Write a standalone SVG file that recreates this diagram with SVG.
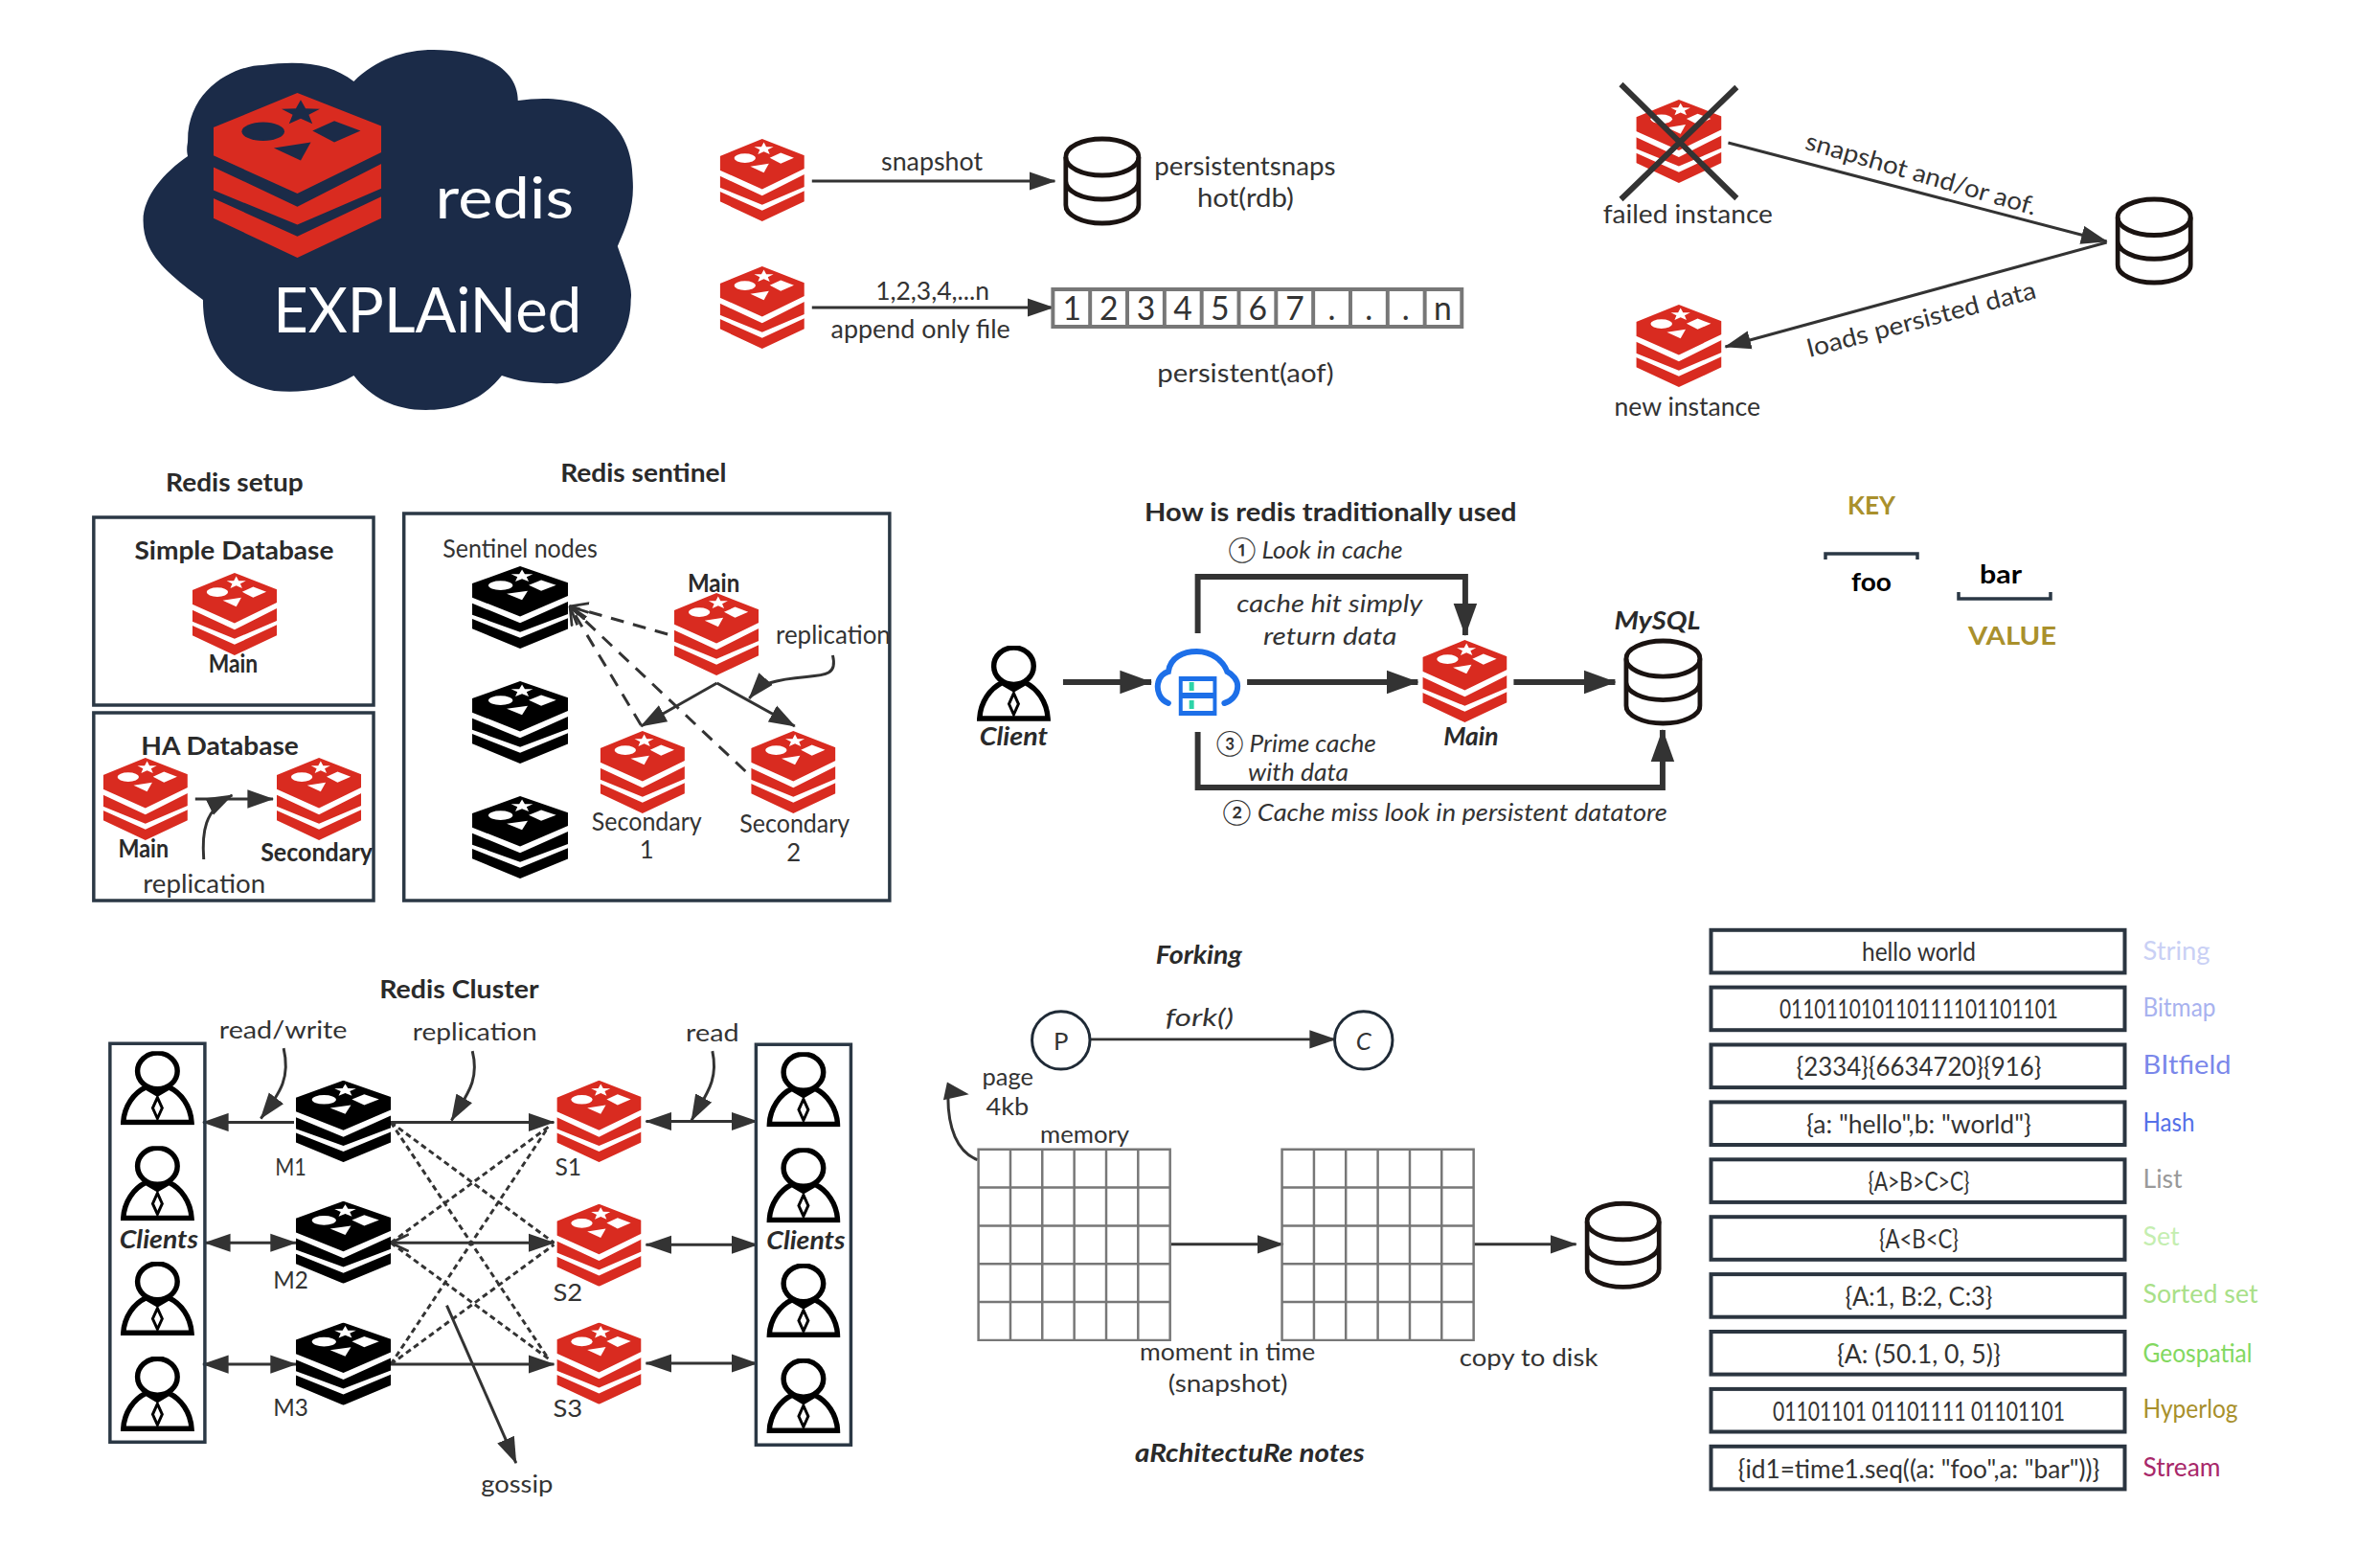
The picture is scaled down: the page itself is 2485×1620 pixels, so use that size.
<svg xmlns="http://www.w3.org/2000/svg" width="2485" height="1620" viewBox="0 0 2485 1620">
<style>
text{font-family:"Lato","Noto Sans","DejaVu Sans",sans-serif;font-size:26px;fill:#333}
.b{font-weight:700;fill:#2a2a2a}
.i{font-style:italic}
.bi{font-style:italic;font-weight:700;fill:#2a2a2a}
.ln{fill:none;stroke:#333;stroke-width:3}
.th{fill:none;stroke:#333;stroke-width:6}
.da{fill:none;stroke:#333;stroke-width:3;stroke-dasharray:14 10}
.dd{fill:none;stroke:#333;stroke-width:3;stroke-dasharray:6 4}
.box{fill:none;stroke:#2b3845;stroke-width:3.5}
.row{fill:#fff;stroke:#2b3540;stroke-width:4}
.grid{fill:none;stroke:#777;stroke-width:2.5}
.red{fill:#d92b20}
.blk{fill:#000}
.m{text-anchor:middle}
</style>
<defs>
<symbol id="redis" viewBox="0 0 100 100" preserveAspectRatio="none">
<path d="M50 0 L100 20 V36 L50 61 L0 38 V21Z M100 43 V58 L50 80 L0 59 V45 L50 69Z M100 63 V76 L50 100 L0 76 V64 L50 87Z"/>
<g style="fill:var(--hole,#fff)">
<ellipse cx="29.6" cy="23.4" rx="12.7" ry="5.6"/>
<polygon points="52,4.2 54.9,9.5 63.4,9.7 56.8,13.2 59,18.7 52,15.5 45,18.7 47.2,13.2 40.6,9.7 49.1,9.5"/>
<polygon points="59,23 72,17 87.6,23 72,30"/>
<polygon points="36,33.5 58,30 52,41"/>
</g>
</symbol>
<symbol id="db" viewBox="0 0 82 94" preserveAspectRatio="none">
<g fill="none" stroke="#1a1311" stroke-width="5">
<ellipse cx="41" cy="22" rx="38.5" ry="19"/>
<path d="M2.5 22 V72 A38.5 19 0 0 0 79.5 72 V22 M2.5 47 A38.5 19 0 0 0 79.5 47"/>
</g>
</symbol>
<symbol id="person" viewBox="0 0 78 78" preserveAspectRatio="none">
<g fill="none" stroke="#000" stroke-width="5.5">
<ellipse cx="39" cy="21" rx="21" ry="19"/>
<path d="M3 75 C4 58 14 44 27 38 L39 45 L51 38 C64 44 74 58 75 75Z"/>
<path stroke-width="3" d="M39 49 L44 60 L39 71 L34 60Z"/>
</g>
</symbol>
<marker id="a26" markerUnits="userSpaceOnUse" markerWidth="28" markerHeight="20" viewBox="0 0 26 18" refX="25" refY="9" orient="auto-start-reverse"><path d="M0 0 L26 9 L0 18Z" fill="#333"/></marker>
<marker id="a33" markerUnits="userSpaceOnUse" markerWidth="34" markerHeight="26" viewBox="0 0 33 24" refX="32" refY="12" orient="auto-start-reverse"><path d="M0 0 L33 12 L0 24Z" fill="#333"/></marker>
<marker id="o14" markerUnits="userSpaceOnUse" markerWidth="20" markerHeight="20" viewBox="0 0 18 18" refX="17" refY="9" orient="auto-start-reverse"><path d="M0 1 L17 9 L0 17" fill="none" stroke="#333" stroke-width="2.5"/></marker>
</defs>

<g id="logo" transform="matrix(0.9905 0 0 1 0.95 0)">
<path d="M372 85 C395 62 425 52 456 52 C505 52 545 70 545 105 C610 95 666 120 666 187 C668 215 660 235 650 257 C660 285 666 300 664 313 C664 370 610 405 580 400 C560 400 545 398 528 392 C505 420 478 428 448 428 C415 428 390 415 372 392 C345 408 315 410 288 408 C240 400 213 365 213 313 C175 285 150 265 150 230 C150 205 172 180 197 163 C195 155 197 150 197 147 C197 90 250 68 276 68 C320 62 350 68 372 85Z" fill="#1b2b48"/>
<use href="#redis" x="224" y="97" width="177" height="172" class="red" style="--hole:#1b2b48"/>
<text x="458" y="228" style="font-size:60px;fill:#fff" textLength="146" lengthAdjust="spacingAndGlyphs">redis</text>
<text x="287" y="347" style="font-size:66px;fill:#fff" textLength="325" lengthAdjust="spacingAndGlyphs">EXPLAiNed</text>
</g>

<g id="connectors">
<g id="conn-persistence" transform="matrix(0.9905 0 0 1 6.84 0)">
<path class="ln" marker-end="url(#a26)" d="M849 189 H1105"/>
<path class="ln" marker-end="url(#a26)" d="M849 321 H1103"/>
</g>
<g id="conn-failover" transform="matrix(0.9905 0 0 1 15.58 0)">
<path class="ln" marker-end="url(#a26)" d="M1806 149 L2205 252"/>
<path class="ln" marker-end="url(#a26)" d="M2205 253 L1803 362"/>
</g>
<g id="conn-setup" transform="matrix(0.9905 0 0 1 0.76 0)">
<path class="ln" marker-end="url(#a26)" d="M205 834 H287"/>
<path class="ln" marker-end="url(#a26)" d="M214 897 C212 870 214 845 244 830"/>
<path class="ln" marker-end="url(#a26)" d="M877 684 C885 715 850 700 810 713 C800 716 795 722 789 729"/>
<path class="ln" marker-end="url(#a26)" d="M755 713 L675 758"/>
<path class="ln" marker-end="url(#a26)" d="M755 713 L837 758"/>
<path class="da" marker-end="url(#o14)" d="M703 662 L600 633"/>
<path class="da" marker-end="url(#o14)" d="M675 757 L600 633"/>
<path class="da" marker-end="url(#o14)" d="M785 805 L600 633"/>
</g>
<g id="conn-traditional" transform="matrix(0.9905 0 0 1 9.5 0)">
<path class="th" marker-end="url(#a33)" d="M1111 712 H1204"/>
<path class="th" marker-end="url(#a33)" d="M1305 712 H1485"/>
<path class="th" marker-end="url(#a33)" d="M1586 712 H1693"/>
<path class="th" marker-end="url(#a33)" d="M1253 661 V602 H1535 V663"/>
<path class="th" marker-end="url(#a33)" d="M1253 764 V822 H1743 V762"/>
</g>
<g id="conn-cluster" transform="matrix(0.9905 0 0 0.9905 0.95 9.6)">
<path class="ln" marker-end="url(#a26)" d="M309 1173 H213"/>
<path class="ln" marker-end="url(#a26)" d="M411 1173 H583"/>
<path class="ln" marker-start="url(#a26)" marker-end="url(#a26)" d="M680 1172 H797"/>
<path class="ln" marker-start="url(#a26)" marker-end="url(#a26)" d="M215 1300 H311"/>
<path class="ln" marker-start="url(#o14)" marker-end="url(#a26)" d="M411 1300 H583"/>
<path class="ln" marker-start="url(#a26)" marker-end="url(#a26)" d="M680 1302 H797"/>
<path class="ln" marker-start="url(#a26)" marker-end="url(#a26)" d="M213 1428 H311"/>
<path class="ln" marker-end="url(#a26)" d="M411 1428 H583"/>
<path class="ln" marker-start="url(#a26)" marker-end="url(#a26)" d="M680 1427 H797"/>
<path class="ln" marker-end="url(#a26)" d="M298 1095 C305 1125 296 1140 274 1169"/>
<path class="ln" marker-end="url(#a26)" d="M497 1098 C505 1130 490 1145 475 1171"/>
<path class="ln" marker-end="url(#a26)" d="M750 1098 C757 1130 742 1145 728 1171"/>
<path class="ln" marker-end="url(#a26)" d="M470 1366 L543 1532"/>
<path class="dd" d="M411 1173 L583 1300"/>
<path class="dd" d="M411 1173 L577 1422"/>
<path class="dd" d="M411 1300 L577 1178"/>
<path class="dd" d="M411 1300 L577 1422"/>
<path class="dd" d="M411 1428 L577 1178"/>
<path class="dd" d="M411 1428 L583 1302"/>
</g>
<g id="conn-forking" transform="matrix(0.9905 0 0 0.9905 9.31 9.2)">
<path class="ln" marker-end="url(#a26)" d="M1140 1086 H1398"/>
<path class="ln" d="M1021 1213 C1000 1205 989 1180 990 1142"/>
<polygon points="989,1131 1012,1144 985,1150" fill="#333"/>
<path class="ln" marker-end="url(#a26)" d="M1225 1302 H1343"/>
<path class="ln" marker-end="url(#a26)" d="M1544 1302 H1652"/>
</g>
</g>

<g id="rdb" transform="matrix(0.9905 0 0 1 6.84 0)">
<use id="rdb-redis" href="#redis" x="752" y="145" width="89" height="86" class="red"/>
<use id="rdb-db" href="#db" x="1114" y="142" width="82" height="94"/>
<text x="922" y="178" textLength="107" lengthAdjust="spacingAndGlyphs">snapshot</text>
<text x="1210" y="183" textLength="191" lengthAdjust="spacingAndGlyphs">persistentsnaps</text>
<text x="1255" y="216" textLength="102" lengthAdjust="spacingAndGlyphs">hot(rdb)</text>
</g>

<g id="aof" transform="matrix(0.9905 0 0 1 6.84 0)">
<use href="#redis" x="752" y="278" width="89" height="86" class="red"/>
<text x="916" y="313" textLength="120" lengthAdjust="spacingAndGlyphs">1,2,3,4,...n</text>
<text x="869" y="353" textLength="189" lengthAdjust="spacingAndGlyphs">append only file</text>
<rect x="1103" y="302" width="431" height="39" fill="none" stroke="#777" stroke-width="4"/>
<path fill="none" stroke="#777" stroke-width="4" d="M1142.2 302 V341 M1181.4 302 V341 M1220.6 302 V341 M1259.8 302 V341 M1299 302 V341 M1338.2 302 V341 M1377.4 302 V341 M1416.6 302 V341 M1455.8 302 V341 M1495 302 V341"/>
<text class="m" x="1123" y="334" style="font-size:34px">1</text>
<text class="m" x="1162" y="334" style="font-size:34px">2</text>
<text class="m" x="1201" y="334" style="font-size:34px">3</text>
<text class="m" x="1240" y="334" style="font-size:34px">4</text>
<text class="m" x="1279" y="334" style="font-size:34px">5</text>
<text class="m" x="1319" y="334" style="font-size:34px">6</text>
<text class="m" x="1358" y="334" style="font-size:34px">7</text>
<text class="m" x="1397" y="334" style="font-size:34px">.</text>
<text class="m" x="1436" y="334" style="font-size:34px">.</text>
<text class="m" x="1475" y="334" style="font-size:34px">.</text>
<text class="m" x="1514" y="334" style="font-size:34px">n</text>
<text x="1213" y="399" textLength="186" lengthAdjust="spacingAndGlyphs">persistent(aof)</text>
</g>

<g id="failover" transform="matrix(0.9905 0 0 1 15.58 0)">
<use href="#redis" x="1709" y="104" width="90" height="87" class="red"/>
<path fill="none" stroke="#333" stroke-width="6" d="M1693 88 L1815 207 M1815 91 L1693 208"/>
<text x="1674" y="233" textLength="179" lengthAdjust="spacingAndGlyphs">failed instance</text>
<use href="#db" x="2214" y="205" width="82" height="93"/>
<text transform="translate(2007 190) rotate(16)" class="m" textLength="252" lengthAdjust="spacingAndGlyphs" x="0" y="0">snapshot and/or aof.</text>
<text transform="translate(2012 342) rotate(-14.5)" class="m" textLength="248" lengthAdjust="spacingAndGlyphs" x="0" y="0">loads persisted data</text>
<use href="#redis" x="1709" y="318" width="90" height="86" class="red"/>
<text x="1686" y="434" textLength="154" lengthAdjust="spacingAndGlyphs">new instance</text>
</g>

<g id="redis-setup" transform="matrix(0.9905 0 0 1 0.76 0)">
<text class="b" x="174" y="513" textLength="145" lengthAdjust="spacingAndGlyphs">Redis setup</text>
<rect class="box" x="98" y="540" width="295" height="196"/>
<text class="b" x="141" y="584" textLength="210" lengthAdjust="spacingAndGlyphs">Simple Database</text>
<use href="#redis" x="202" y="598" width="89" height="86" class="red"/>
<text class="b" x="219" y="702" textLength="52" lengthAdjust="spacingAndGlyphs">Main</text>
<rect class="box" x="98" y="744" width="295" height="196"/>
<text class="b" x="148" y="788" textLength="166" lengthAdjust="spacingAndGlyphs">HA Database</text>
<use href="#redis" x="108" y="791" width="89" height="86" class="red"/>
<use href="#redis" x="291" y="791" width="89" height="86" class="red"/>
<text class="b" x="124" y="895" textLength="53" lengthAdjust="spacingAndGlyphs">Main</text>
<text class="b" x="274" y="899" textLength="118" lengthAdjust="spacingAndGlyphs">Secondary</text>
<text x="150" y="932" textLength="129" lengthAdjust="spacingAndGlyphs">replication</text>
</g>

<g id="redis-sentinel" transform="matrix(0.9905 0 0 1 0.76 0)">
<text class="b" x="590" y="503" textLength="175" lengthAdjust="spacingAndGlyphs">Redis sentinel</text>
<rect class="box" x="425" y="536" width="512" height="404"/>
<text x="466" y="582" textLength="163" lengthAdjust="spacingAndGlyphs">Sentinel nodes</text>
<use href="#redis" x="497" y="591" width="101" height="86" class="blk"/>
<use href="#redis" x="497" y="711" width="101" height="86" class="blk"/>
<use href="#redis" x="497" y="831" width="101" height="86" class="blk"/>
<text class="b" x="724" y="618" textLength="55" lengthAdjust="spacingAndGlyphs">Main</text>
<use href="#redis" x="710" y="619" width="89" height="86" class="red"/>
<text x="817" y="672" textLength="121" lengthAdjust="spacingAndGlyphs">replication</text>
<use href="#redis" x="632" y="763" width="89" height="86" class="red"/>
<use href="#redis" x="791" y="763" width="89" height="86" class="red"/>
<text x="623" y="867" textLength="116" lengthAdjust="spacingAndGlyphs">Secondary</text>
<text class="m" x="681" y="896">1</text>
<text x="779" y="869" textLength="116" lengthAdjust="spacingAndGlyphs">Secondary</text>
<text class="m" x="836" y="899">2</text>
</g>

<g id="traditional-use" transform="matrix(0.9905 0 0 1 9.5 0)">
<text class="b" x="1197" y="544" textLength="392" lengthAdjust="spacingAndGlyphs">How is redis traditionally used</text>
<text class="i" x="1285" y="583" textLength="184" lengthAdjust="spacingAndGlyphs">① Look in cache</text>
<use href="#person" x="1020" y="674" width="78" height="79"/>
<text class="bi" x="1023" y="778" textLength="72" lengthAdjust="spacingAndGlyphs">Client</text>
<g id="gateway" transform="translate(1208 678)">
<path fill="none" stroke="#1d6fe8" stroke-width="6" stroke-linecap="round" d="M14 56 C4 52 2 42 3 36 C4 28 10 24 14 23 C16 8 30 2 44 2 C60 2 72 12 76 23 C82 26 87 32 87 38 C87 48 80 54 73 56"/>
<rect x="25" y="28" width="40" height="41" fill="#1d6fe8"/>
<rect x="29" y="33" width="32" height="12" fill="#fff"/>
<rect x="29" y="51" width="32" height="13" fill="#fff"/>
<rect x="36" y="34" width="5" height="9" fill="#2dd4a8"/>
<rect x="36" y="53" width="5" height="9" fill="#2dd4a8"/>
</g>
<text class="i" x="1294" y="639" textLength="196" lengthAdjust="spacingAndGlyphs">cache hit simply</text>
<text class="i" x="1322" y="673" textLength="141" lengthAdjust="spacingAndGlyphs">return data</text>
<use href="#redis" x="1490" y="668" width="89" height="86" class="red"/>
<text class="bi" x="1512" y="778" textLength="58" lengthAdjust="spacingAndGlyphs">Main</text>
<text class="bi" x="1692" y="657" textLength="91" lengthAdjust="spacingAndGlyphs">MySQL</text>
<use href="#db" x="1702" y="666" width="83" height="92"/>
<text class="i" x="1272" y="785" textLength="169" lengthAdjust="spacingAndGlyphs">③ Prime cache</text>
<text class="i" x="1306" y="815" textLength="106" lengthAdjust="spacingAndGlyphs">with data</text>
<text class="i" x="1279" y="857" textLength="469" lengthAdjust="spacingAndGlyphs">② Cache miss look in persistent datatore</text>
</g>

<g id="key-value">
<text x="1929" y="537" style="fill:#a9902c;font-weight:700" textLength="50" lengthAdjust="spacingAndGlyphs">KEY</text>
<path class="box" d="M1906 584 V578 H2002 V584"/>
<text x="1933" y="617" style="fill:#000;font-weight:700" textLength="42" lengthAdjust="spacingAndGlyphs">foo</text>
<text x="2067" y="609" style="fill:#000;font-weight:700" textLength="44" lengthAdjust="spacingAndGlyphs">bar</text>
<path class="box" d="M2045 618 V625 H2141 V618"/>
<text x="2055" y="673" style="fill:#a9902c;font-weight:700" textLength="92" lengthAdjust="spacingAndGlyphs">VALUE</text>
</g>

<g id="redis-cluster" transform="matrix(0.9905 0 0 0.9905 0.95 9.6)">
<text class="b" x="399" y="1042" textLength="168" lengthAdjust="spacingAndGlyphs">Redis Cluster</text>
<text x="230" y="1085" textLength="135" lengthAdjust="spacingAndGlyphs">read/write</text>
<text x="434" y="1087" textLength="131" lengthAdjust="spacingAndGlyphs">replication</text>
<text x="722" y="1088" textLength="56" lengthAdjust="spacingAndGlyphs">read</text>
<rect class="box" x="115" y="1090" width="100" height="420"/>
<rect class="box" x="796" y="1091" width="100" height="422"/>
<use href="#person" x="126" y="1098" width="78" height="78"/>
<use href="#person" x="126" y="1198" width="78" height="79"/>
<use href="#person" x="126" y="1320" width="78" height="78"/>
<use href="#person" x="126" y="1420" width="78" height="79"/>
<use href="#person" x="807" y="1099" width="78" height="79"/>
<use href="#person" x="807" y="1200" width="78" height="79"/>
<use href="#person" x="807" y="1322" width="78" height="78"/>
<use href="#person" x="807" y="1422" width="78" height="79"/>
<text class="bi" x="125" y="1306" textLength="83" lengthAdjust="spacingAndGlyphs">Clients</text>
<text class="bi" x="807" y="1307" textLength="83" lengthAdjust="spacingAndGlyphs">Clients</text>
<use href="#redis" x="311" y="1129" width="100" height="86" class="blk"/>
<use href="#redis" x="311" y="1256" width="100" height="87" class="blk"/>
<use href="#redis" x="311" y="1384" width="100" height="87" class="blk"/>
<use href="#redis" x="586" y="1129" width="89" height="86" class="red"/>
<use href="#redis" x="586" y="1259" width="89" height="87" class="red"/>
<use href="#redis" x="586" y="1384" width="89" height="86" class="red"/>
<text x="289" y="1229" textLength="33" lengthAdjust="spacingAndGlyphs">M1</text>
<text x="287" y="1348" textLength="37" lengthAdjust="spacingAndGlyphs">M2</text>
<text x="287" y="1482" textLength="37" lengthAdjust="spacingAndGlyphs">M3</text>
<text x="584" y="1229" textLength="28" lengthAdjust="spacingAndGlyphs">S1</text>
<text x="582" y="1361" textLength="31" lengthAdjust="spacingAndGlyphs">S2</text>
<text x="582" y="1483" textLength="31" lengthAdjust="spacingAndGlyphs">S3</text>
<text x="506" y="1563" textLength="76" lengthAdjust="spacingAndGlyphs">gossip</text>
</g>

<g id="forking" transform="matrix(0.9905 0 0 0.9905 9.31 9.2)">
<text class="bi" x="1209" y="1006" textLength="91" lengthAdjust="spacingAndGlyphs">Forking</text>
<circle cx="1109" cy="1087" r="30.5" fill="#fff" stroke="#1f2a36" stroke-width="3"/>
<circle cx="1428" cy="1087" r="30.5" fill="#fff" stroke="#1f2a36" stroke-width="3"/>
<text class="m" x="1109" y="1097">P</text>
<text class="i m" x="1428" y="1097">C</text>
<text class="i" x="1219" y="1072" textLength="72" lengthAdjust="spacingAndGlyphs">fork()</text>
<text x="1026" y="1135" textLength="54" lengthAdjust="spacingAndGlyphs">page</text>
<text x="1030" y="1166" textLength="45" lengthAdjust="spacingAndGlyphs">4kb</text>
<text x="1087" y="1195" textLength="94" lengthAdjust="spacingAndGlyphs">memory</text>
<path class="grid" d="M1022 1202 H1224 V1403 H1022Z M1055.7 1202 V1403 M1089.3 1202 V1403 M1123 1202 V1403 M1156.7 1202 V1403 M1190.3 1202 V1403 M1022 1242.2 H1224 M1022 1282.4 H1224 M1022 1322.6 H1224 M1022 1362.8 H1224"/>
<path class="grid" d="M1342 1202 H1544 V1403 H1342Z M1375.7 1202 V1403 M1409.3 1202 V1403 M1443 1202 V1403 M1476.7 1202 V1403 M1510.3 1202 V1403 M1342 1242.2 H1544 M1342 1282.4 H1544 M1342 1322.6 H1544 M1342 1362.8 H1544"/>
<use href="#db" x="1661" y="1256" width="81" height="94"/>
<text x="1192" y="1424" textLength="185" lengthAdjust="spacingAndGlyphs">moment in time</text>
<text x="1222" y="1458" textLength="126" lengthAdjust="spacingAndGlyphs">(snapshot)</text>
<text x="1529" y="1430" textLength="146" lengthAdjust="spacingAndGlyphs">copy to disk</text>
<text class="bi" x="1187" y="1531" textLength="242" lengthAdjust="spacingAndGlyphs">aRchitectuRe notes</text>
</g>

<g id="data-types" transform="translate(0.5 0.8)">
<g id="type-string"><rect class="row" x="1786" y="970" width="432" height="44.6"/><text class="m" x="2003" y="1002.7" textLength="119" lengthAdjust="spacingAndGlyphs">hello world</text><text x="2237" y="1001.5" style="fill:#c9d0f5" textLength="70" lengthAdjust="spacingAndGlyphs">String</text></g>
<g id="type-bitmap"><rect class="row" x="1786" y="1029.8" width="432" height="44.6"/><text class="m" x="2003" y="1062.6" textLength="291" lengthAdjust="spacingAndGlyphs">011011010110111101101101</text><text x="2237" y="1060.7" style="fill:#a8b2ef" textLength="76" lengthAdjust="spacingAndGlyphs">Bitmap</text></g>
<g id="type-bitfield"><rect class="row" x="1786" y="1089.7" width="432" height="44.6"/><text class="m" x="2003" y="1122.5" textLength="256" lengthAdjust="spacingAndGlyphs">{2334}{6634720}{916}</text><text x="2237" y="1120" style="fill:#7a87ea" textLength="92" lengthAdjust="spacingAndGlyphs">BItfield</text></g>
<g id="type-hash"><rect class="row" x="1786" y="1149.6" width="432" height="44.6"/><text class="m" x="2003" y="1182.4" textLength="235" lengthAdjust="spacingAndGlyphs">{a: "hello",b: "world"}</text><text x="2237" y="1180" style="fill:#5570e8" textLength="54" lengthAdjust="spacingAndGlyphs">Hash</text></g>
<g id="type-list"><rect class="row" x="1786" y="1209.5" width="432" height="44.6"/><text class="m" x="2003" y="1242.3" textLength="106" lengthAdjust="spacingAndGlyphs">{A&gt;B&gt;C&gt;C}</text><text x="2237" y="1239.6" style="fill:#999" textLength="41" lengthAdjust="spacingAndGlyphs">List</text></g>
<g id="type-set"><rect class="row" x="1786" y="1269.4" width="432" height="44.6"/><text class="m" x="2003" y="1302.2" textLength="83" lengthAdjust="spacingAndGlyphs">{A&lt;B&lt;C}</text><text x="2237" y="1299.6" style="fill:#c4eeb0" textLength="38" lengthAdjust="spacingAndGlyphs">Set</text></g>
<g id="type-sorted-set"><rect class="row" x="1786" y="1329.3" width="432" height="44.6"/><text class="m" x="2003" y="1362.1" textLength="154" lengthAdjust="spacingAndGlyphs">{A:1, B:2, C:3}</text><text x="2237" y="1359.7" style="fill:#a8e088" textLength="120" lengthAdjust="spacingAndGlyphs">Sorted set</text></g>
<g id="type-geospatial"><rect class="row" x="1786" y="1389.2" width="432" height="44.6"/><text class="m" x="2003" y="1422" textLength="171" lengthAdjust="spacingAndGlyphs">{A: (50.1, 0, 5)}</text><text x="2237" y="1421.3" style="fill:#82d860" textLength="114" lengthAdjust="spacingAndGlyphs">Geospatial</text></g>
<g id="type-hyperlog"><rect class="row" x="1786" y="1449.1" width="432" height="44.6"/><text class="m" x="2003" y="1481.9" textLength="305" lengthAdjust="spacingAndGlyphs">01101101 01101111 01101101</text><text x="2237" y="1479.4" style="fill:#a8902c" textLength="99" lengthAdjust="spacingAndGlyphs">Hyperlog</text></g>
<g id="type-stream"><rect class="row" x="1786" y="1509" width="432" height="44.6"/><text class="m" x="2003" y="1541.8" textLength="378" lengthAdjust="spacingAndGlyphs">{id1=time1.seq((a: "foo",a: "bar"))}</text><text x="2237" y="1539.8" style="fill:#a8286a" textLength="81" lengthAdjust="spacingAndGlyphs">Stream</text></g>
</g>
</svg>
